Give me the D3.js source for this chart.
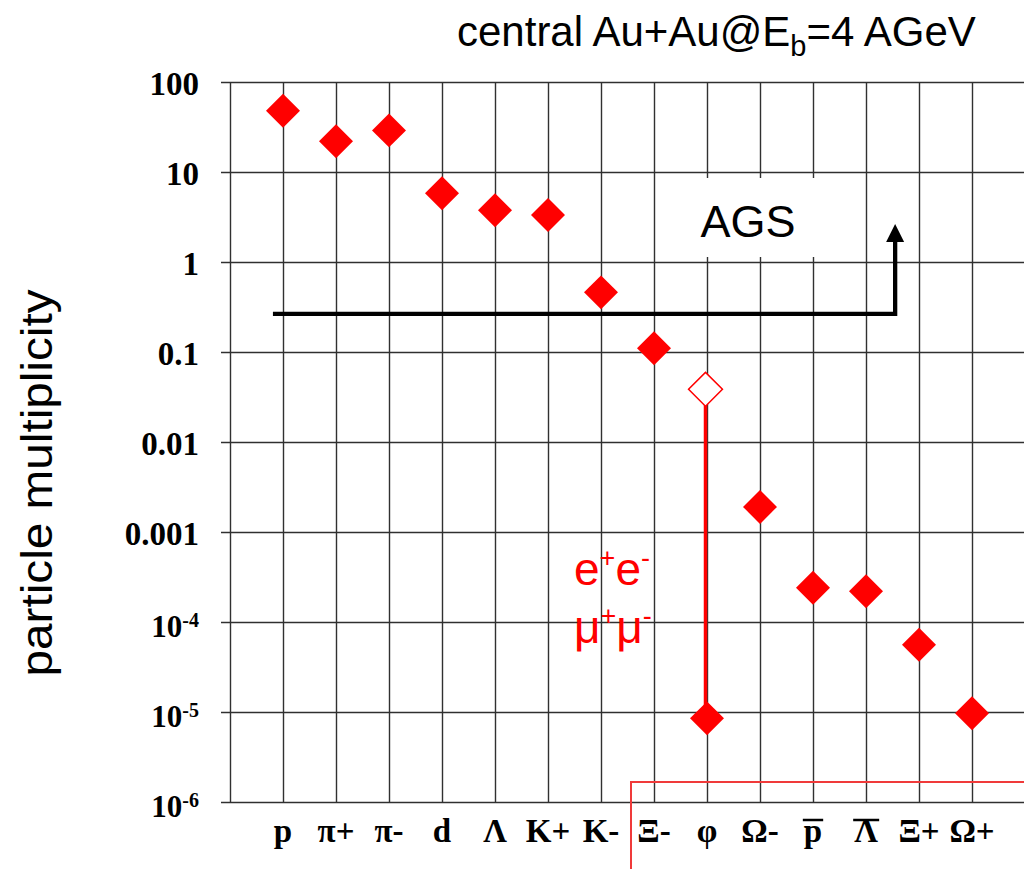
<!DOCTYPE html>
<html>
<head>
<meta charset="utf-8">
<script src="https://cdn.jsdelivr.net/npm/d3@7"></script>
<style>
  html, body { margin: 0; padding: 0; background: #fff; }
  svg { display: block; }
</style>
</head>
<body>
<svg id="chart" width="1024" height="869"></svg>
<script>
// Particle species (x categories) and their multiplicities in central Au+Au at 4 AGeV
const categories   = ["p", "π+", "π-", "d", "Λ", "K+", "K-", "Ξ-", "φ", "Ω-", "p", "Λ", "Ξ+", "Ω+"];
const antiparticle = [false, false, false, false, false, false, false, false, false, false, true, true, false, false];
const multiplicity = [48, 22, 29, 5.8, 3.75, 3.33, 0.46, 0.11, 8.5e-6, 0.0019, 2.4e-4, 2.2e-4, 5.6e-5, 9.7e-6];

// phi: total yield (open marker) and the dilepton-decay yield (filled marker)
const phiTotal = 0.0385;
const phiDilepton = 8.5e-6;

// Log axis ticks and their labels ("^" marks an exponent)
const yTicks      = [1e-6, 1e-5, 1e-4, 1e-3, 1e-2, 0.1, 1, 10, 100];
const yTickLabels = ["10^-6", "10^-5", "10^-4", "0.001", "0.01", "0.1", "1", "10", "100"];

// AGS reach: multiplicity threshold and arrow tip
const agsThreshold = 0.265;
const agsArrowTip  = 2.65;
// dilepton region boundary (multiplicity)
const dileptonBoundary = 1.67e-6;

const W = 1024, H = 869;
const sans  = "'Liberation Sans', Arial, Helvetica, sans-serif";
const serif = "'Liberation Serif', 'Times New Roman', Times, serif";
const RED = "#ff0000";
const GRID = "#303030";

const svg = d3.select("#chart");

const x = d3.scaleLinear().domain([0, 15]).range([230, 1025]);
const y = d3.scaleLog().domain([1e-6, 100]).range([802, 82]);
const px = v => Math.round(v) + 0.5;   // align hairlines on pixel centres

// ---- grid ----
const grid = svg.append("g").attr("stroke", GRID).attr("stroke-width", 1.4);
grid.selectAll("line.h").data(yTicks).join("line")
  .attr("class", "h")
  .attr("x1", x(0) - 9).attr("x2", W)
  .attr("y1", d => px(y(d))).attr("y2", d => px(y(d)));
grid.selectAll("line.v").data(d3.range(0, 15)).join("line")
  .attr("class", "v")
  .attr("x1", d => px(x(d))).attr("x2", d => px(x(d)))
  .attr("y1", y(100)).attr("y2", y(1e-6));

// ---- y tick labels ----
const yl = svg.append("g")
  .attr("font-family", serif).attr("font-weight", "bold").attr("fill", "#000");
yTickLabels.forEach((lab, i) => {
  const t = yl.append("text").attr("x", 199).attr("text-anchor", "end");
  if (lab.includes("^")) {
    const [base, exp] = lab.split("^");
    t.attr("y", y(yTicks[i]) + 15);
    t.append("tspan").attr("font-size", 31).text(base);
    t.append("tspan").attr("font-size", 20).attr("dy", -10).text(exp);
  } else {
    t.attr("y", y(yTicks[i]) + 13).attr("font-size", 33).text(lab);
  }
});

// ---- x category labels ----
const xl = svg.append("g")
  .attr("font-family", serif).attr("font-weight", "bold").attr("font-size", 33).attr("fill", "#000");
categories.forEach((c, i) => {
  const t = xl.append("text")
    .attr("x", x(i + 1)).attr("y", 842)
    .attr("text-anchor", "middle").text(c);
  if (antiparticle[i]) {
    const bb = t.node().getBBox();
    xl.append("line")
      .attr("x1", bb.x - 1).attr("x2", bb.x + bb.width + 1)
      .attr("y1", 820).attr("y2", 820)
      .attr("stroke", "#000").attr("stroke-width", 2.5);
  }
});

// ---- AGS label on a white patch ----
svg.append("rect")
  .attr("x", 659).attr("y", 178).attr("width", 200).attr("height", 79)
  .attr("fill", "#fff");
svg.append("text")
  .attr("x", 748).attr("y", 237).attr("text-anchor", "middle")
  .attr("font-family", sans).attr("font-size", 45).attr("fill", "#000")
  .text("AGS");

// ---- AGS threshold line with upward arrow ----
const agsX0 = x(0.81), agsX1 = x(12.55);
svg.append("path")
  .attr("d", `M${agsX0},${y(agsThreshold)} H${agsX1} V${y(agsArrowTip) + 16}`)
  .attr("fill", "none").attr("stroke", "#000").attr("stroke-width", 4.3)
  .attr("stroke-linejoin", "miter");
svg.append("path")
  .attr("d", `M${agsX1},${y(agsArrowTip)} l9,18 h-18 Z`)
  .attr("fill", "#000");

// ---- dilepton region boundary ----
svg.append("path")
  .attr("d", `M${x(7.566)},${H} V${y(dileptonBoundary)} H${W}`)
  .attr("fill", "none").attr("stroke", "#f03a3a").attr("stroke-width", 2);

// ---- phi: line from total yield down to dilepton yield ----
const phiX = x(categories.indexOf("φ") + 1) - 1.5;
svg.append("line")
  .attr("x1", phiX).attr("x2", phiX)
  .attr("y1", y(phiTotal) + 16).attr("y2", y(phiDilepton) - 4)
  .attr("stroke", RED).attr("stroke-width", 3.5);

// ---- data markers (diamonds) ----
const diamond = d3.symbol().type(d3.symbolSquare).size(24 * 24);
svg.append("g").selectAll("path").data(multiplicity).join("path")
  .attr("d", diamond)
  .attr("transform", (d, i) => `translate(${x(i + 1)},${y(d)}) rotate(45)`)
  .attr("fill", RED);

svg.append("path")
  .attr("d", diamond)
  .attr("transform", `translate(${x(categories.indexOf("φ") + 1) - 1.5},${y(phiTotal)}) rotate(45)`)
  .attr("fill", "#fff").attr("stroke", RED).attr("stroke-width", 1.5);

// ---- dilepton channel labels ----
function chargedPair(yPos, sym) {
  const t = svg.append("text")
    .attr("x", 574).attr("y", yPos)
    .attr("font-family", sans).attr("font-size", 46).attr("fill", RED);
  t.append("tspan").text(sym);
  t.append("tspan").attr("font-size", 27).attr("dy", -18).text("+");
  t.append("tspan").attr("dy", 18).text(sym);
  t.append("tspan").attr("font-size", 27).attr("dy", -18).text("-");
}
chargedPair(585, "e");
chargedPair(643, "μ");

// ---- title ----
const title = svg.append("text")
  .attr("x", 457).attr("y", 46)
  .attr("font-family", sans).attr("font-size", 42).attr("fill", "#000");
title.append("tspan").text("central Au+Au@E");
title.append("tspan").attr("font-size", 29).attr("dy", 10).text("b");
title.append("tspan").attr("dy", -10).text("=4 AGeV");

// ---- y axis title ----
svg.append("text")
  .attr("transform", `translate(52,${483}) rotate(-90)`)
  .attr("text-anchor", "middle")
  .attr("font-family", sans).attr("font-size", 44).attr("fill", "#000")
  .attr("textLength", 387).attr("lengthAdjust", "spacingAndGlyphs")
  .text("particle multiplicity");
</script>
</body>
</html>
